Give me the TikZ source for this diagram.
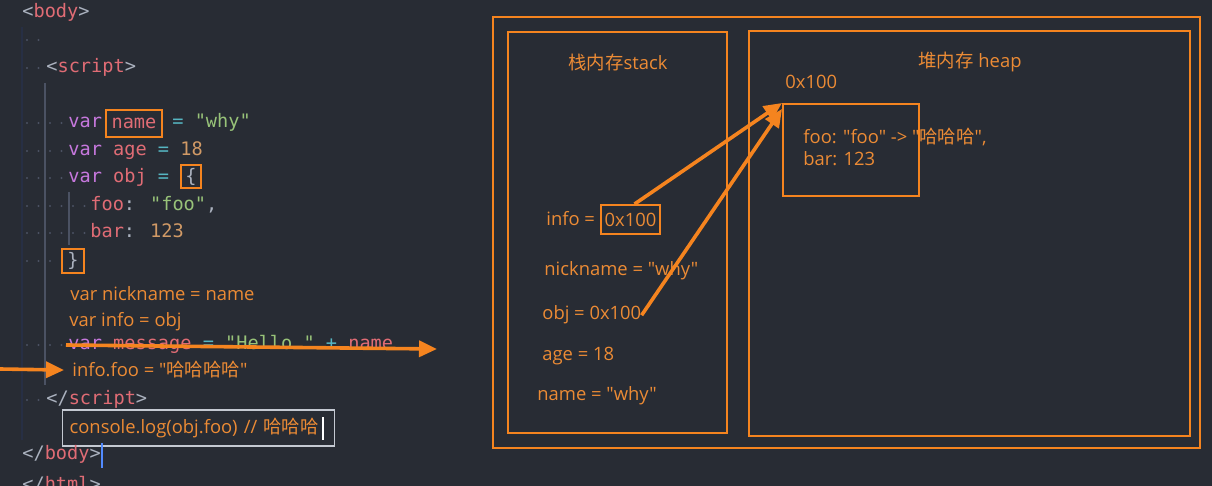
\documentclass[tikz,border=0pt]{standalone}
\usepackage{fontspec}
\usepackage{xcolor}
\usetikzlibrary{arrows.meta,positioning}
\setmainfont{Open Sans}[Ligatures=TeXOff]
\newfontfamily\zhfont{Noto Sans CJK SC}
\newfontfamily\codefont{DejaVu Sans Mono}
\definecolor{editorbg}{HTML}{282C34}
\definecolor{penorange}{HTML}{F5841F}
\definecolor{noteorange}{HTML}{EC8B35}
\definecolor{tagred}{HTML}{E06C75}
\definecolor{kwpurple}{HTML}{C678DD}
\definecolor{opcyan}{HTML}{56B6C2}
\definecolor{strgreen}{HTML}{98C379}
\definecolor{numorange}{HTML}{D19A66}
\definecolor{plaingrey}{HTML}{ABB2BF}
\definecolor{guidegrey}{HTML}{4B5263}
\definecolor{cursorblue}{HTML}{528BFF}
\newcommand{\codesize}{\codefont\fontsize{9.3}{11}\selectfont}
\newcommand{\notesize}{\fontsize{9.2}{11}\selectfont}
\newcommand{\kw}[1]{\textcolor{kwpurple}{#1}}
\newcommand{\idt}[1]{\textcolor{tagred}{#1}}
\newcommand{\opr}[1]{\textcolor{opcyan}{#1}}
\newcommand{\strg}[1]{\textcolor{strgreen}{#1}}
\newcommand{\numb}[1]{\textcolor{numorange}{#1}}
\newcommand{\pun}[1]{\textcolor{plaingrey}{#1}}
\newcommand{\zh}[1]{{\zhfont #1}}

\begin{document}
\begin{tikzpicture}[
    x=0.5pt, y=-0.5pt,
    code/.style={anchor=base west, inner sep=0pt, font=\codesize},
    note/.style={anchor=base west, inner sep=0pt, text=noteorange, font=\notesize},
    hl/.style={draw=penorange, line width=0.9pt, inner sep=0pt},
    codebox/.style={hl, font=\codesize},
    slotbox/.style={hl, text=noteorange, font=\notesize},
    memframe/.style={draw=penorange, line width=1pt},
    ptr/.style={penorange, line width=1.8pt, -{Triangle[length=9pt, width=8pt]}}
]
\useasboundingbox (0,0) rectangle (1212,486);
\clip (0,0) rectangle (1212,486);
\fill[editorbg] (0,0) rectangle (1212,486);

% Editor
\draw[guidegrey!120, line width=1pt] (22,27) -- (22,440);
\draw[guidegrey, line width=1pt] (45,83) -- (45,385);
\draw[guidegrey, line width=0.6pt] (69,192) -- (69,245);
\foreach \yy/\nn in {40/2, 68/2, 123/4, 151/4, 178/4, 206/6, 233/6, 261/3, 345/4, 400/2}
  \foreach \k in {1,...,\nn}
    \fill[guidegrey] ({15.5+11.5*\k},\yy) circle (0.6pt);

\node[code] (bodyopen) at (22,18) {\pun{<}\idt{body}\pun{>}};
\node[code] (scriptopen) at (46,73) {\pun{<}\idt{script}\pun{>}};
\node[code] (varname) at (68,128) {\kw{var}};
\node[codebox, minimum width=28pt, minimum height=13.5pt] (namebox) at (134,123.5) {\idt{name}};
\node[code] (nameval) at (172,128) {\opr{=} \strg{"why"}};
\node[code] (ageline) at (68,156) {\kw{var} \idt{age} \opr{=} \numb{18}};
\node[code] (objline) at (68,183) {\kw{var} \idt{obj} \opr{=}};
\node[codebox, minimum width=10pt, minimum height=11.5pt] (openbrace) at (191,176.5) {\pun{\{}};
\node[code] (fooline) at (90,211) {\idt{foo}\pun{:} \strg{"foo"}\pun{,}};
\node[code] (barline) at (90,238) {\idt{bar}\pun{:} \numb{123}};
\node[codebox, minimum width=11pt, minimum height=12pt] (closebrace) at (73,261) {\pun{\}}};
\node[note] (nickline) at (70,301) {var nickname = name};
\node[note] (infoline) at (69,327) {var info = obj};
\node[code] (msgline) at (68,350) {\kw{var} \idt{message} \opr{=} \strg{"Hello "} \opr{+} \idt{name}};
\node[note] (fooset) at (72,377) {info.foo = "\zh{哈哈哈哈}"};
\node[code] (scriptclose) at (46,405) {\pun{</}\idt{script}\pun{>}};
\node[note, anchor=west, draw=plaingrey!70!white, line width=0.6pt, minimum height=18pt,
      text width=129pt, inner xsep=3.5pt, align=left] (console) at (62,428) {console.log(obj.foo) // \zh{哈哈哈}};
\node[code] (bodyclose) at (22,460) {\pun{</}\idt{body}\pun{>}};
\node[code] (htmlclose) at (22,491) {\pun{</}\idt{html}\pun{>}};
\draw[cursorblue, line width=1pt] (102,443) -- (102,468);
\draw[white, line width=0.7pt] (323,417) -- (323,440);

\coordinate (strikefrom) at (66,345);
\coordinate (striketo) at (437,349);
\draw[ptr] (strikefrom) -- (striketo);
\coordinate (leftfrom) at (0,369);
\draw[ptr] (leftfrom) -- ([xshift=-4pt]fooset.west);

% Memory
\draw[memframe] (493,17) rectangle (1200,448);
\draw[memframe] (508,32) rectangle (727,433);
\draw[memframe] (749,31) rectangle (1190,436);
\node[note, anchor=center] (stacktitle) at (618,63) {\zh{栈内存}stack};
\node[note, anchor=center] (heaptitle) at (970,62) {\zh{堆内存} heap};
\node[note] (heapaddr) at (785,89) {0x100};
\node[draw=penorange, line width=1pt, minimum width=68pt, minimum height=46pt, inner sep=0pt] (objbox) at (851,150) {};
\node[note] (fooprop) at (803,144) {foo: "foo" -> "\zh{哈哈哈}",};
\node[note] (barprop) at (803,166) {bar: 123};
\node[note] (infoslot) at (546,226) {info =};
\node[slotbox, minimum width=29.5pt, minimum height=14.5pt] (infoptr) at (630.5,219.5) {0x100};
\node[note] (nickslot) at (544,276) {nickname = "why"};
\node[note] (objslot) at (542,320) {obj = 0x100};
\node[note] (ageslot) at (542,361) {age = 18};
\node[note] (nameslot) at (537,401) {name = "why"};
\draw[ptr] ([xshift=2pt]infoptr.north) -- (objbox.north west);
\draw[ptr] (objslot.east) -- ([yshift=-3pt]objbox.north west);
\end{tikzpicture}
\end{document}
